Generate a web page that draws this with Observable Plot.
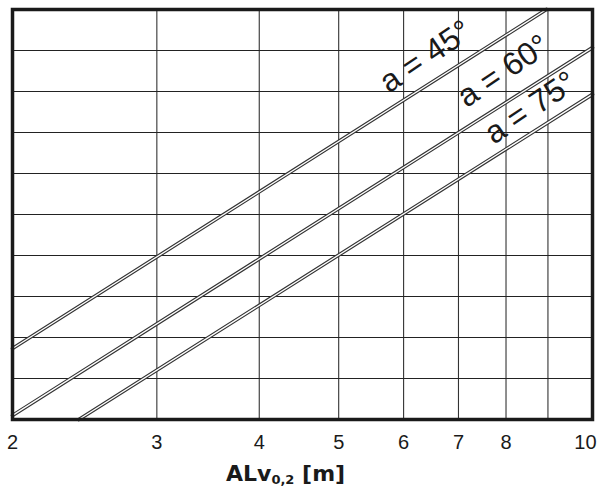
<!DOCTYPE html>
<html>
<head>
<meta charset="utf-8">
<script src="https://cdn.jsdelivr.net/npm/d3@7"></script>
<script src="https://cdn.jsdelivr.net/npm/@observablehq/plot@0.6"></script>
<style>
  html, body { margin: 0; padding: 0; background: #fff; }
  #wrap { position: relative; width: 606px; height: 491px; }
  #xlabel { position: absolute; top: 461px; left: 226px; font-family: "DejaVu Sans", Verdana, sans-serif; font-weight: bold; font-size: 22px; color: #1a1a1a; white-space: nowrap; }
  #xlabel sub { font-size: 13px; vertical-align: -3px; }
</style>
</head>
<body>
<div id="wrap"><div id="chart"></div><div id="xlabel">ALv<sub>0,2</sub> [m]</div></div>
<script>
// x-axis tick labels (log scale)
const xTicks = [2, 3, 4, 5, 6, 7, 8, 9, 10];
const xGrid = [3, 4, 5, 6, 7, 8, 9];
const yGrid = [1, 2, 3, 4, 5, 6, 7, 8, 9];

// series names
const seriesNames = ["a = 45°", "a = 60°", "a = 75°"];
// line end points (x in m, y in unlabeled units 0..10)
const line45x = [2, 8.96];
const line45y = [1.73, 10];
const line60x = [2, 10.2];
const line60y = [0.1, 9.07];
const line75x = [2.41, 10.2];
const line75y = [0, 7.93];

// label anchor points along lines
const labelX = [6.38, 7.94, 8.57];
const labelY = [8.85, 8.5, 7.6];

const lines = [];
[[line45x, line45y], [line60x, line60y], [line75x, line75y]].forEach(([xs, ys], i) => {
  xs.forEach((x, j) => lines.push({series: seriesNames[i], x, y: ys[j]}));
});
const labels = seriesNames.map((s, i) => ({s, x: labelX[i], y: labelY[i]}));

const chart = Plot.plot({
  width: 606,
  height: 456,
  marginLeft: 12,
  marginRight: 14,
  marginTop: 9,
  marginBottom: 37,
  x: {type: "log", domain: [2, 10.2]},
  y: {domain: [0, 10]},
  style: {fontFamily: "'Liberation Sans', Arial, sans-serif", background: "#fff", color: "#1a1a1a"},
  marks: [
    Plot.ruleX(xGrid, {stroke: "#333", strokeWidth: 1.1}),
    Plot.ruleY(yGrid, {stroke: "#222", strokeWidth: 1.1}),
    Plot.line(lines, {x: "x", y: "y", z: "series", stroke: "#333", strokeWidth: 3.6}),
    Plot.line(lines, {x: "x", y: "y", z: "series", stroke: "#fff", strokeWidth: 1.3}),
    Plot.text(labels, {x: "x", y: "y", text: "s", rotate: -34, fontSize: 32, fill: "#1a1a1a", fontFamily: "'Liberation Sans', Arial, sans-serif"}),
    Plot.frame({stroke: "#1a1a1a", strokeWidth: 3.5}),
    Plot.axisX(xTicks, {tickSize: 0, tickPadding: 15, fontSize: 20, tickFormat: d => String(d), label: null}),
    Plot.axisY({ticks: [], label: null})
  ]
});
document.getElementById("chart").appendChild(chart);
</script>
</body>
</html>
